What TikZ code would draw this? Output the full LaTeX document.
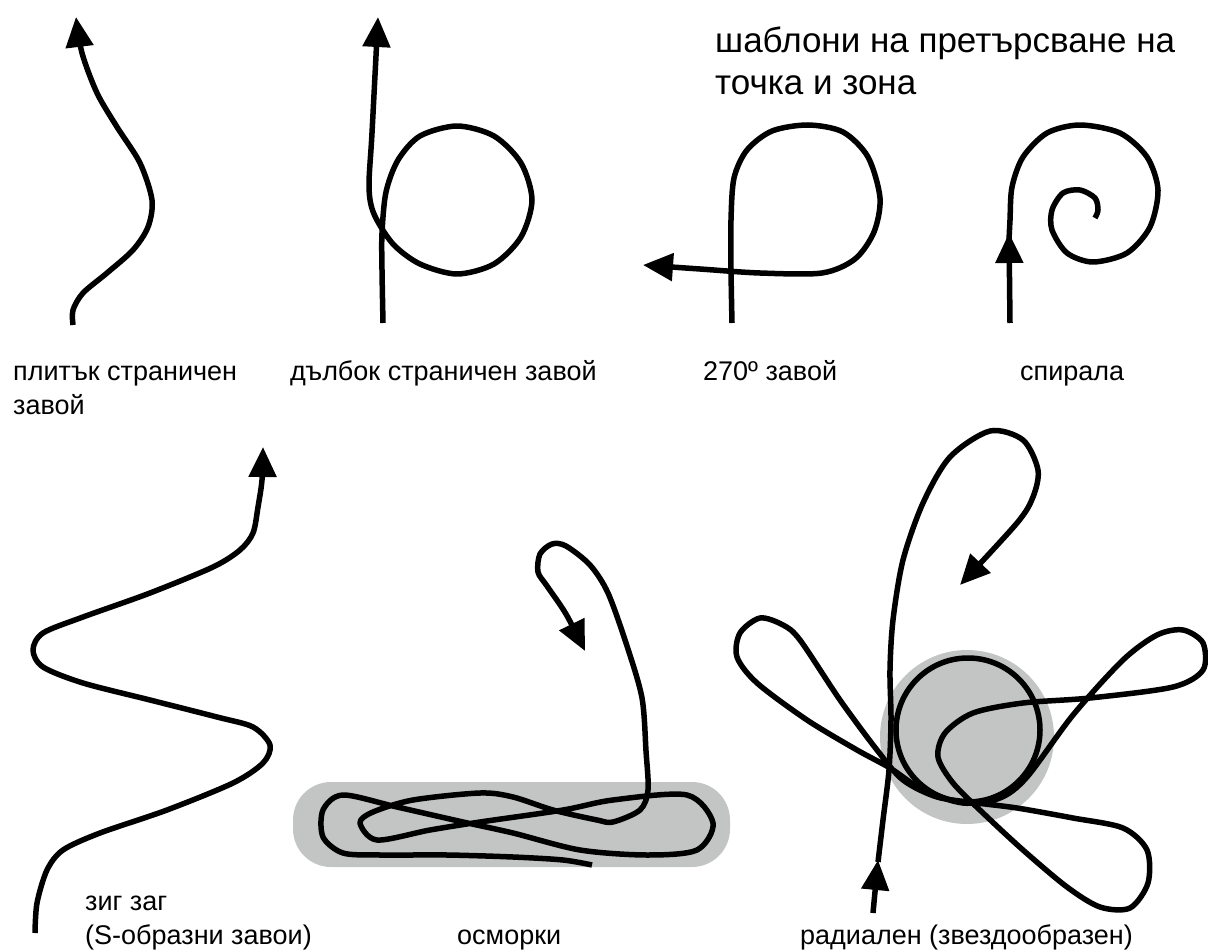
\documentclass[tikz,border=0pt]{standalone}
\usepackage{fontspec}
\setmainfont{Liberation Sans}
\usetikzlibrary{arrows.meta}
\definecolor{zonegray}{RGB}{195,197,196}

\begin{document}
\begin{tikzpicture}[x=1pt, y=-1pt,
    trk/.style={line width=5.5pt, line join=round},
    arrowtrk/.style={trk, -{Triangle[length=30pt, width=27pt]}},
    lbl/.style={anchor=base west, inner sep=0pt, font=\fontsize{27}{34}\selectfont},
    ttl/.style={anchor=base west, inner sep=0pt, font=\fontsize{35}{42}\selectfont}]
\useasboundingbox (0,0) rectangle (1208,952);

% title
\node[ttl] (title1) at (715,53) {шаблони на претърсване на};
\node[ttl] (title2) at (715,95) {точка и зона};

% shallow side turn
\draw[arrowtrk] plot[smooth] coordinates {(73,325) (73,310) (83,293) (107,273) (133,250)
    (148,227) (152,200) (140,163) (117,127) (97,93) (82,53) (76,17)};
\node[lbl] (shallow1) at (13,380) {плитък страничен};
\node[lbl] (shallow2) at (13,414) {завой};

% deep side turn
\draw[arrowtrk] plot[smooth] coordinates {(383,323) (382,270) (382,233) (386,192) (398,160)
    (420,136) (457,126) (494,136) (521,163) (532,200) (521,237) (494,264) (457,274)
    (420,264) (393,244) (374,214) (369,187) (372,133) (378,17)};
\node[lbl] (deep) at (290,380) {дълбок страничен завой};

% 270 turn
\draw[arrowtrk] plot[smooth] coordinates {(732,323) (731,270) (731,220) (734,178) (747,150)
    (772,131) (808,125) (843,132) (868,157) (880,198) (874,232) (855,259) (822,273)
    (760,273) (700,269) (643,265)};
\node[lbl] (turn) at (703,380) {270º завой};

% spiral
\draw[arrowtrk] (1010,323) -- (1009,233);
\draw[trk] plot[smooth] coordinates {(1009,240) (1010,220) (1012,187) (1023,157) (1047,133)
    (1080,125) (1120,133) (1147,157) (1158,190) (1150,227) (1127,253) (1093,262)
    (1067,253) (1052,230) (1052,210) (1063,193) (1080,190) (1095,198) (1098,210) (1095,218)};
\node[lbl] (spiral) at (1020,380) {спирала};

% zig zag
\draw[arrowtrk] plot[smooth] coordinates {(35,933) (37,903) (47,870) (63,850) (100,833)
    (167,810) (233,783) (263,763) (270,745) (253,727) (217,717) (150,700) (83,683)
    (43,667) (33,650) (43,633) (83,617) (150,593) (213,567) (240,550) (253,533)
    (258,507) (262,480) (263,447)};
\node[lbl] (zig1) at (85,910) {зиг заг};
\node[lbl] (zig2) at (85,944) {(S-образни завои)};

% figure eights
\fill[zonegray, rounded corners=38pt] (293,782) rectangle (730,867);
\draw[arrowtrk] plot[smooth] coordinates {(592,865) (563,860) (513,857) (447,855) (380,855)
    (343,853) (323,837) (323,810) (343,795) (397,807) (463,822) (513,833) (580,850)
    (647,855) (697,850) (713,823) (687,795) (613,800) (563,810) (480,822) (430,830)
    (377,840) (360,823) (373,812) (413,800) (480,793) (513,797) (553,810) (597,820)
    (613,822) (640,810) (648,790) (646,751) (642,698) (627,646) (608,593) (590,565)
    (566,546) (552,544) (540,554) (538,572) (547,586) (566,614) (585,651)};
\node[lbl] (eights) at (457,944) {осморки};

% radial
\fill[zonegray] (967,737) circle (87);
\draw[trk] (968,730) circle (72);
\draw[trk] plot[smooth cycle] coordinates {(760,618) (740,633) (737,657) (757,683) (807,720)
    (857,750) (890,768) (923,790) (963,803) (1000,798) (1027,777) (1073,715) (1123,660)
    (1157,635) (1183,630) (1203,643) (1203,670) (1173,687) (1090,698) (1023,703)
    (973,713) (945,733) (938,757) (953,783) (983,813) (1023,850) (1067,887) (1100,907)
    (1130,908) (1148,883) (1147,850) (1123,828) (1073,818) (1017,808) (977,803)
    (937,797) (903,780) (877,750) (840,700) (800,640) (783,625)};
\draw[arrowtrk] (873,913) -- (878,860);
\draw[arrowtrk] plot[smooth] coordinates {(878,862) (883,820) (889,770) (891,720) (890,670)
    (893,620) (903,560) (923,503) (950,457) (990,431) (1023,440) (1038,470) (1033,497)
    (1017,523) (960,585)};
\node[lbl] (radial) at (800,944) {радиален (звездообразен)};
\end{tikzpicture}
\end{document}
